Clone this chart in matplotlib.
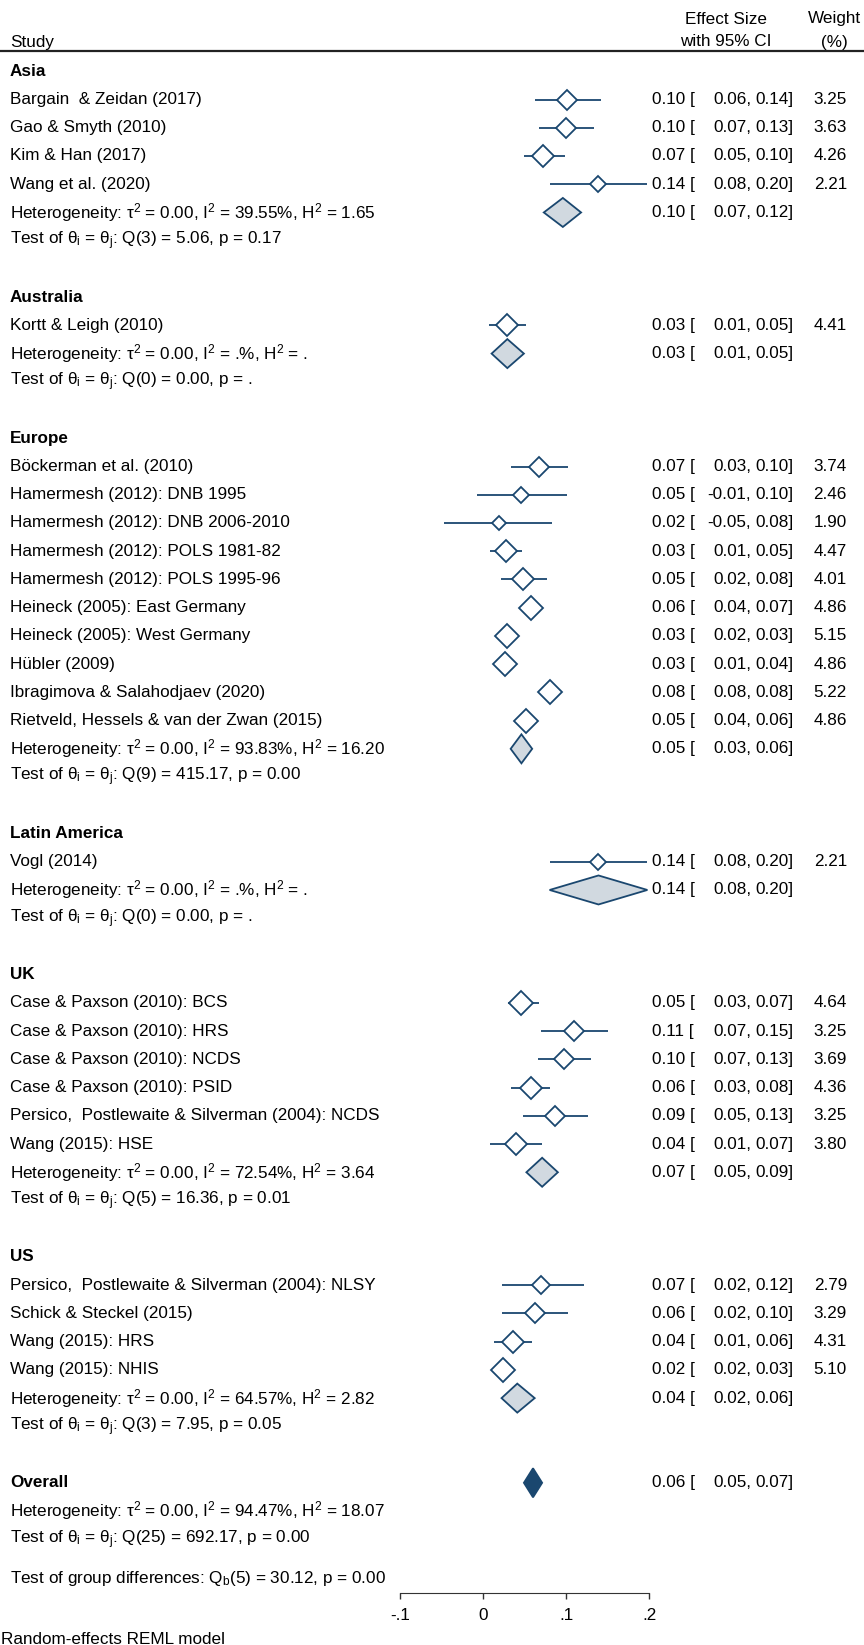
import numpy as np
import matplotlib
matplotlib.use("Agg")
import matplotlib.pyplot as plt
from matplotlib.transforms import blended_transform_factory

plt.rcParams['font.family'] = ['Liberation Sans', 'DejaVu Sans']
plt.rcParams['mathtext.fontset'] = 'custom'
plt.rcParams['mathtext.rm'] = 'Liberation Sans'
plt.rcParams['mathtext.it'] = 'Liberation Sans'
plt.rcParams['mathtext.bf'] = 'Liberation Sans:bold'
plt.rcParams['mathtext.default'] = 'regular'

# ---- data ----
groups = ["Asia", "Australia", "Europe", "Latin America", "UK", "US"]

study_group = [0, 0, 0, 0,
               1,
               2, 2, 2, 2, 2, 2, 2, 2, 2, 2,
               3,
               4, 4, 4, 4, 4, 4,
               5, 5, 5, 5]
studies = ["Bargain  & Zeidan (2017)", "Gao & Smyth (2010)", "Kim & Han (2017)", "Wang et al. (2020)",
           "Kortt & Leigh (2010)",
           "Böckerman et al. (2010)", "Hamermesh (2012): DNB 1995", "Hamermesh (2012): DNB 2006-2010",
           "Hamermesh (2012): POLS 1981-82", "Hamermesh (2012): POLS 1995-96", "Heineck (2005): East Germany",
           "Heineck (2005): West Germany", "Hübler (2009)", "Ibragimova & Salahodjaev (2020)",
           "Rietveld, Hessels & van der Zwan (2015)",
           "Vogl (2014)",
           "Case & Paxson (2010): BCS", "Case & Paxson (2010): HRS", "Case & Paxson (2010): NCDS",
           "Case & Paxson (2010): PSID", "Persico,  Postlewaite & Silverman (2004): NCDS", "Wang (2015): HSE",
           "Persico,  Postlewaite & Silverman (2004): NLSY", "Schick & Steckel (2015)",
           "Wang (2015): HRS", "Wang (2015): NHIS"]
es = [0.101, 0.100, 0.072, 0.138,
      0.029,
      0.067, 0.046, 0.019, 0.027, 0.048, 0.057, 0.029, 0.026, 0.080, 0.052,
      0.139,
      0.046, 0.110, 0.097, 0.057, 0.086, 0.039,
      0.070, 0.062, 0.036, 0.024]
lo = [0.062, 0.067, 0.049, 0.080,
      0.007,
      0.034, -0.008, -0.047, 0.008, 0.021, 0.044, 0.021, 0.012, 0.078, 0.041,
      0.080,
      0.030, 0.070, 0.066, 0.034, 0.048, 0.008,
      0.023, 0.023, 0.013, 0.019]
hi = [0.142, 0.133, 0.099, 0.198,
      0.051,
      0.102, 0.101, 0.083, 0.047, 0.077, 0.069, 0.034, 0.039, 0.082, 0.062,
      0.198,
      0.067, 0.150, 0.130, 0.081, 0.126, 0.071,
      0.121, 0.102, 0.059, 0.029]
weights = [3.25, 3.63, 4.26, 2.21,
           4.41,
           3.74, 2.46, 1.90, 4.47, 4.01, 4.86, 5.15, 4.86, 5.22, 4.86,
           2.21,
           4.64, 3.25, 3.69, 4.36, 3.25, 3.80,
           2.79, 3.29, 4.31, 5.10]

# subgroup pooled estimates
grp_es = [0.096, 0.029, 0.046, 0.139, 0.071, 0.041]
grp_lo = [0.073, 0.010, 0.033, 0.080, 0.052, 0.022]
grp_hi = [0.118, 0.049, 0.059, 0.198, 0.090, 0.062]
grp_tau2 = ["0.00", "0.00", "0.00", "0.00", "0.00", "0.00"]
grp_i2 = ["39.55", ".", "93.83", ".", "72.54", "64.57"]
grp_h2 = ["1.65", ".", "16.20", ".", "3.64", "2.82"]
grp_df = [3, 0, 9, 0, 5, 3]
grp_q = ["5.06", "0.00", "415.17", "0.00", "16.36", "7.95"]
grp_p = ["0.17", ".", "0.00", ".", "0.01", "0.05"]

overall_es, overall_lo, overall_hi = 0.060, 0.049, 0.071
overall_het = ("0.00", "94.47", "18.07")
overall_test = (25, "692.17", "0.00")
group_diff = (5, "30.12", "0.00")

xticks = [-0.1, 0, 0.1, 0.2]
xticklabels = ["-.1", "0", ".1", ".2"]

# ---- layout ----
W, H = 864, 1645
navy = "#1a476f"
fill = "#d1d9e0"
fs = 12.3

fig = plt.figure(figsize=(W / 100, H / 100), dpi=100)
axis_px = 1593
ax = fig.add_axes([0, (H - axis_px) / H, 1, axis_px / H])
ppu = 828.7                     # pixels per effect-size unit
x0 = 483.3                      # pixel position of zero
ax.set_xlim(-x0 / ppu, (W - x0) / ppu)
ax.set_ylim(axis_px, 0)          # y data = pixels from the top
for s in ["top", "left", "right"]:
    ax.spines[s].set_visible(False)
ax.spines["bottom"].set_bounds(xticks[0], xticks[-1])
ax.spines["bottom"].set_color("#333333")
ax.set_yticks([])
ax.set_xticks(xticks)
ax.set_xticklabels(xticklabels, fontsize=fs)
ax.tick_params(axis="x", length=4, width=1, color="#333333", pad=6.5)

tr = blended_transform_factory(ax.transAxes, ax.transData)


def px(x):
    return x / W


def row_y(i):
    return 71.3 + i * 28.23


def txt(x, y, s, **kw):
    ax.text(px(x), y, s, transform=tr, fontsize=fs, va="center", color="black", **kw)


def es_cols(y, e, l, h, w=None):
    txt(652, y, "%.2f [" % e, ha="left")
    txt(751, y, "%.2f," % l, ha="right")
    txt(794, y, "%.2f]" % h, ha="right")
    if w is not None:
        txt(847, y, "%.2f" % w, ha="right")


def pooled(y, e, l, h, color, edge):
    half = 14.5
    ax.fill([l, e, h, e], [y, y - half, y, y + half], facecolor=color,
            edgecolor=edge, linewidth=1.3, zorder=3)


def het_text(tau, i2, h2):
    return (r"Heterogeneity: $\tau^2$ = %s, $I^2$ = %s%%, $H^2$ = %s" % (tau, i2, h2))


def test_text(df, q, p):
    return r"Test of $\theta_i$ = $\theta_j$: Q(%d) = %s, p = %s" % (df, q, p)


# header
txt(10, 42, "Study", ha="left")
txt(726, 19, "Effect Size", ha="center")
txt(726, 42, "with 95% CI", ha="center")
txt(834, 19, "Weight", ha="center")
txt(834, 42, "(%)", ha="center")
ax.plot([0, 1], [51, 51], transform=tr, color="#222222", lw=1.6, clip_on=False)

i = 0
study_idx = np.array(study_group)
for g, name in enumerate(groups):
    txt(10, row_y(i), name, ha="left", fontweight="bold")
    i += 1
    for k in np.where(study_idx == g)[0]:
        y = row_y(i)
        ax.plot([lo[k], hi[k]], [y, y], color=navy, lw=1.3, zorder=2,
                solid_capstyle="butt")
        size_px = 10.8 * np.sqrt(weights[k])
        ax.plot(es[k], y, marker="D", ms=size_px * 0.72 / 1.414, mfc="white",
                mec=navy, mew=1.3, zorder=3)
        txt(10, y, studies[k], ha="left")
        es_cols(y, es[k], lo[k], hi[k], weights[k])
        i += 1
    y = row_y(i)
    pooled(y, grp_es[g], grp_lo[g], grp_hi[g], fill, navy)
    txt(10, y, het_text(grp_tau2[g], grp_i2[g], grp_h2[g]), ha="left")
    es_cols(y, grp_es[g], grp_lo[g], grp_hi[g])
    i += 1
    txt(10, row_y(i), test_text(grp_df[g], grp_q[g], grp_p[g]), ha="left")
    i += 2

# overall
y = row_y(i)
txt(10, y, "Overall", ha="left", fontweight="bold")
pooled(y, overall_es, overall_lo, overall_hi, navy, navy)
es_cols(y, overall_es, overall_lo, overall_hi)
txt(10, row_y(i + 1), het_text(*overall_het), ha="left")
txt(10, row_y(i + 2), test_text(*overall_test), ha="left")
txt(10, 1578, r"Test of group differences: $Q_b$(%d) = %s, p = %s" % group_diff, ha="left")

fig.text(0.001, 5 / H, "Random-effects REML model", fontsize=fs, va="center", ha="left")

fig.savefig("out.png", dpi=100, facecolor="white")
